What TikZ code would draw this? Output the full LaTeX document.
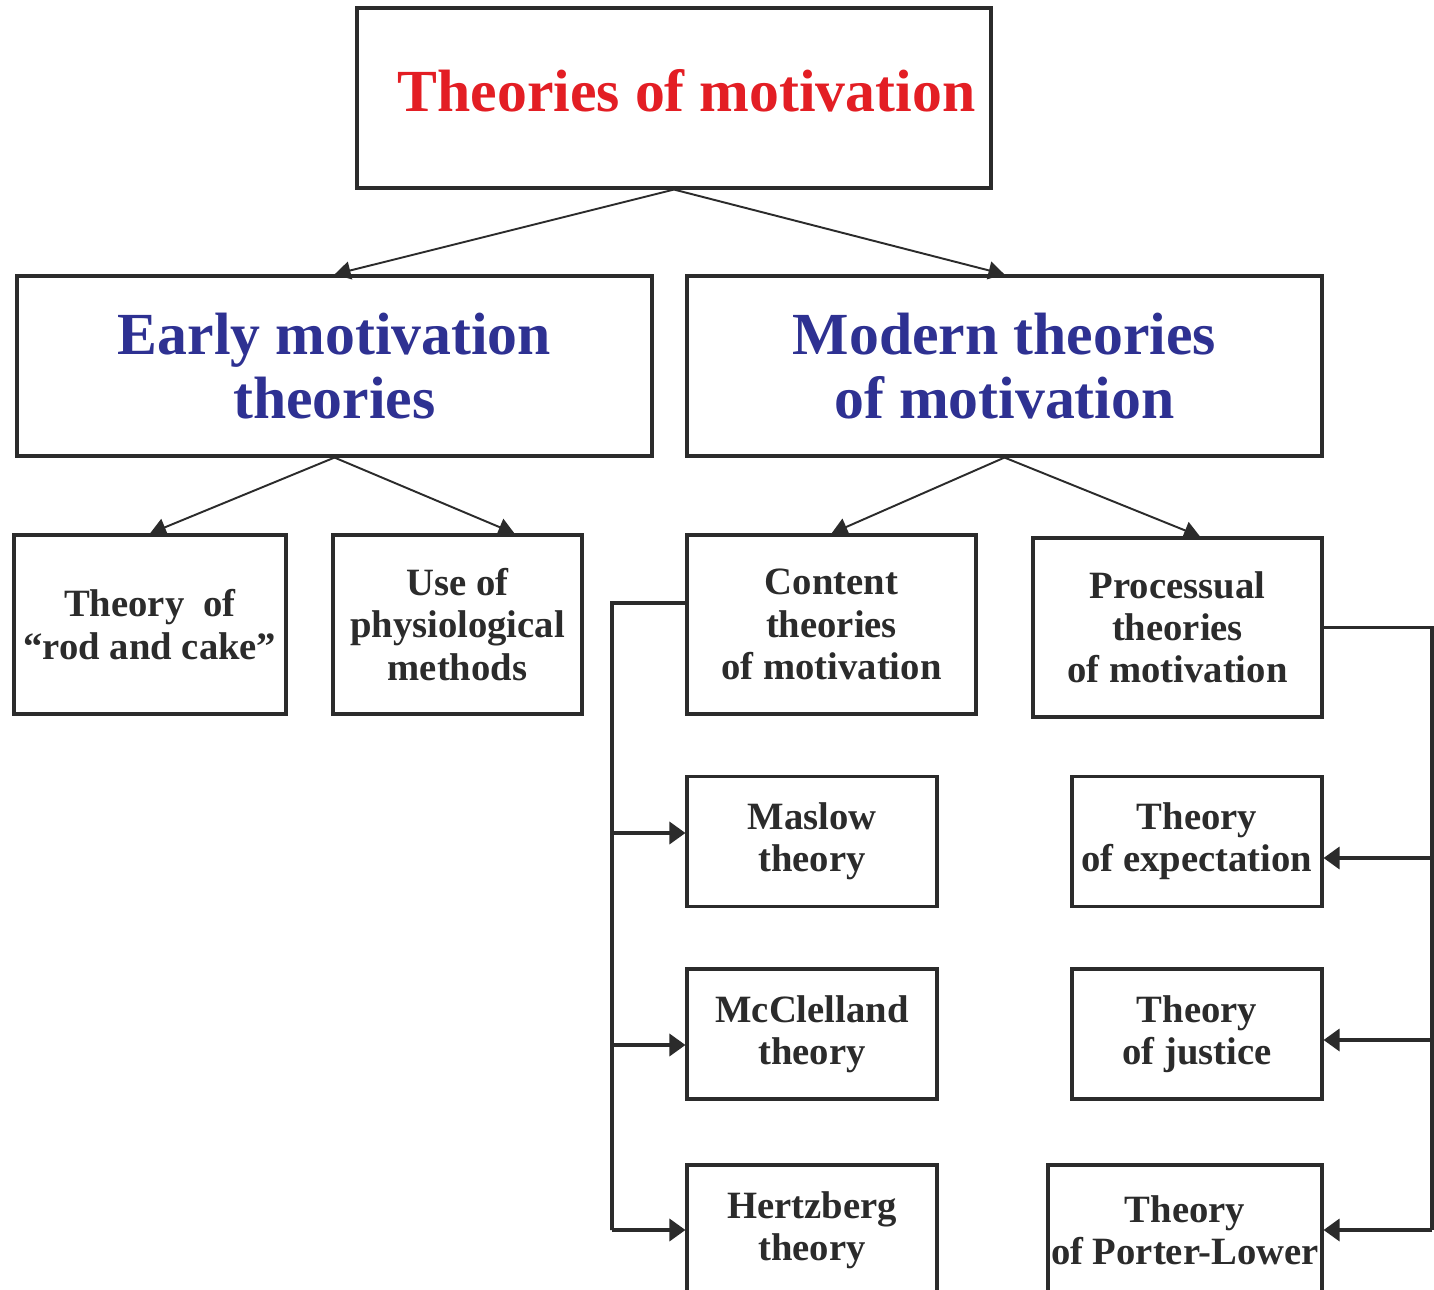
\documentclass[tikz,border=0pt]{standalone}
\usepackage{fontspec}
\setmainfont{Liberation Serif}
\usetikzlibrary{arrows.meta,calc,positioning}
\definecolor{titlered}{RGB}{227,30,36}
\definecolor{headblue}{RGB}{46,49,146}
\definecolor{ink}{RGB}{43,43,43}
\tikzset{
  box/.style={draw=ink, line width=1.8pt, inner sep=0pt, align=center,
    text=ink, font=\bfseries\fontsize{22}{24}\selectfont},
  headbox/.style={box, minimum width=12.7cm, minimum height=3.6cm,
    text=headblue, font=\bfseries\fontsize{34}{36}\selectfont},
  midbox/.style={box, minimum height=3.58cm},
  leaf/.style={box, minimum width=5cm, minimum height=2.6cm},
  split/.style={draw=ink, line width=1.1pt, -{Triangle[length=0.32cm,width=0.36cm]}},
  feed/.style={draw=ink, line width=2pt},
  feedarrow/.style={feed, -{Triangle[length=0.32cm,width=0.44cm]}},
}

\begin{document}
\begin{tikzpicture}[x=0.02cm, y=-0.02cm]
\clip (0,0) rectangle (1434,1290);
\fill[white] (0,0) rectangle (1434,1290);

%% Level 0: title
\node[headbox, minimum width=12.68cm, text=titlered] (top) at (674,98)
  {\hspace*{0.5cm}\raisebox{0.32cm}{Theories of motivation}};

%% Level 1: early and modern
\node[headbox] (early)  at (334.5,366) {Early motivation\\theories};
\node[headbox] (modern) at (1004.5,366) {Modern theories\\of motivation};

\draw[split] (top.south) -- (early.north);
\draw[split] (top.south) -- (modern.north);

%% Level 2: early branch
\node[midbox, minimum width=5.44cm] (rod)  at (150,624.5) {Theory\ \ of\\“rod and cake”};
\node[midbox, minimum width=4.98cm] (phys) at (457.5,624.5) {Use of\\physiological\\methods};

\draw[split] (early.south) -- (rod.north);
\draw[split] (early.south) -- ([xshift=1.14cm]phys.north);

%% Level 2: modern branch
\node[midbox, minimum width=5.78cm] (content) at (831.5,624.5) {Content\\theories\\of motivation};
\node[midbox, minimum width=5.78cm] (proc)    at (1177.5,627.5) {Processual\\theories\\of motivation};

\draw[split] (modern.south) -- (content.north);
\draw[split] (modern.south) -- ([xshift=0.45cm]proc.north);

%% Level 3: content theories
\node[leaf] (maslow) at (812,841.5) {Maslow\\theory};
\node[leaf] (mcc)    at (812,1034)  {McClelland\\theory};
\node[leaf] (hertz)  at (812,1230)  {Hertzberg\\theory};

%% Level 3: processual theories
\node[leaf] (expect)  at (1197,841.5) {Theory\\of expectation};
\node[leaf] (justice) at (1197,1034)  {Theory\\of justice};
\node[leaf, minimum width=5.48cm] (porter) at (1185,1230) {Theory\\of Porter-Lower};

%% Left bus
\coordinate (lbus) at (612,603);
\coordinate (lend) at (612,1230);
\coordinate (masin) at ([yshift=0.17cm]maslow.west);
\coordinate (mccin) at ([yshift=-0.22cm]mcc.west);
\draw[feed] ([yshift=0.43cm]content.west) -- (lbus) -- (lend);
\foreach \n in {masin,mccin,hertz.west}{
  \draw[feedarrow] (lbus |- \n) -- (\n);
}

%% Right bus
\coordinate (rbus) at (1432,627.5);
\coordinate (rend) at (1432,1230);
\coordinate (expin) at ([yshift=-0.33cm]expect.east);
\coordinate (jusin) at ([yshift=-0.12cm]justice.east);
\draw[feed] (proc.east) -- (rbus) -- (rend);
\foreach \n in {expin,jusin,porter.east}{
  \draw[feedarrow] (rbus |- \n) -- (\n);
}

\end{tikzpicture}
\end{document}
